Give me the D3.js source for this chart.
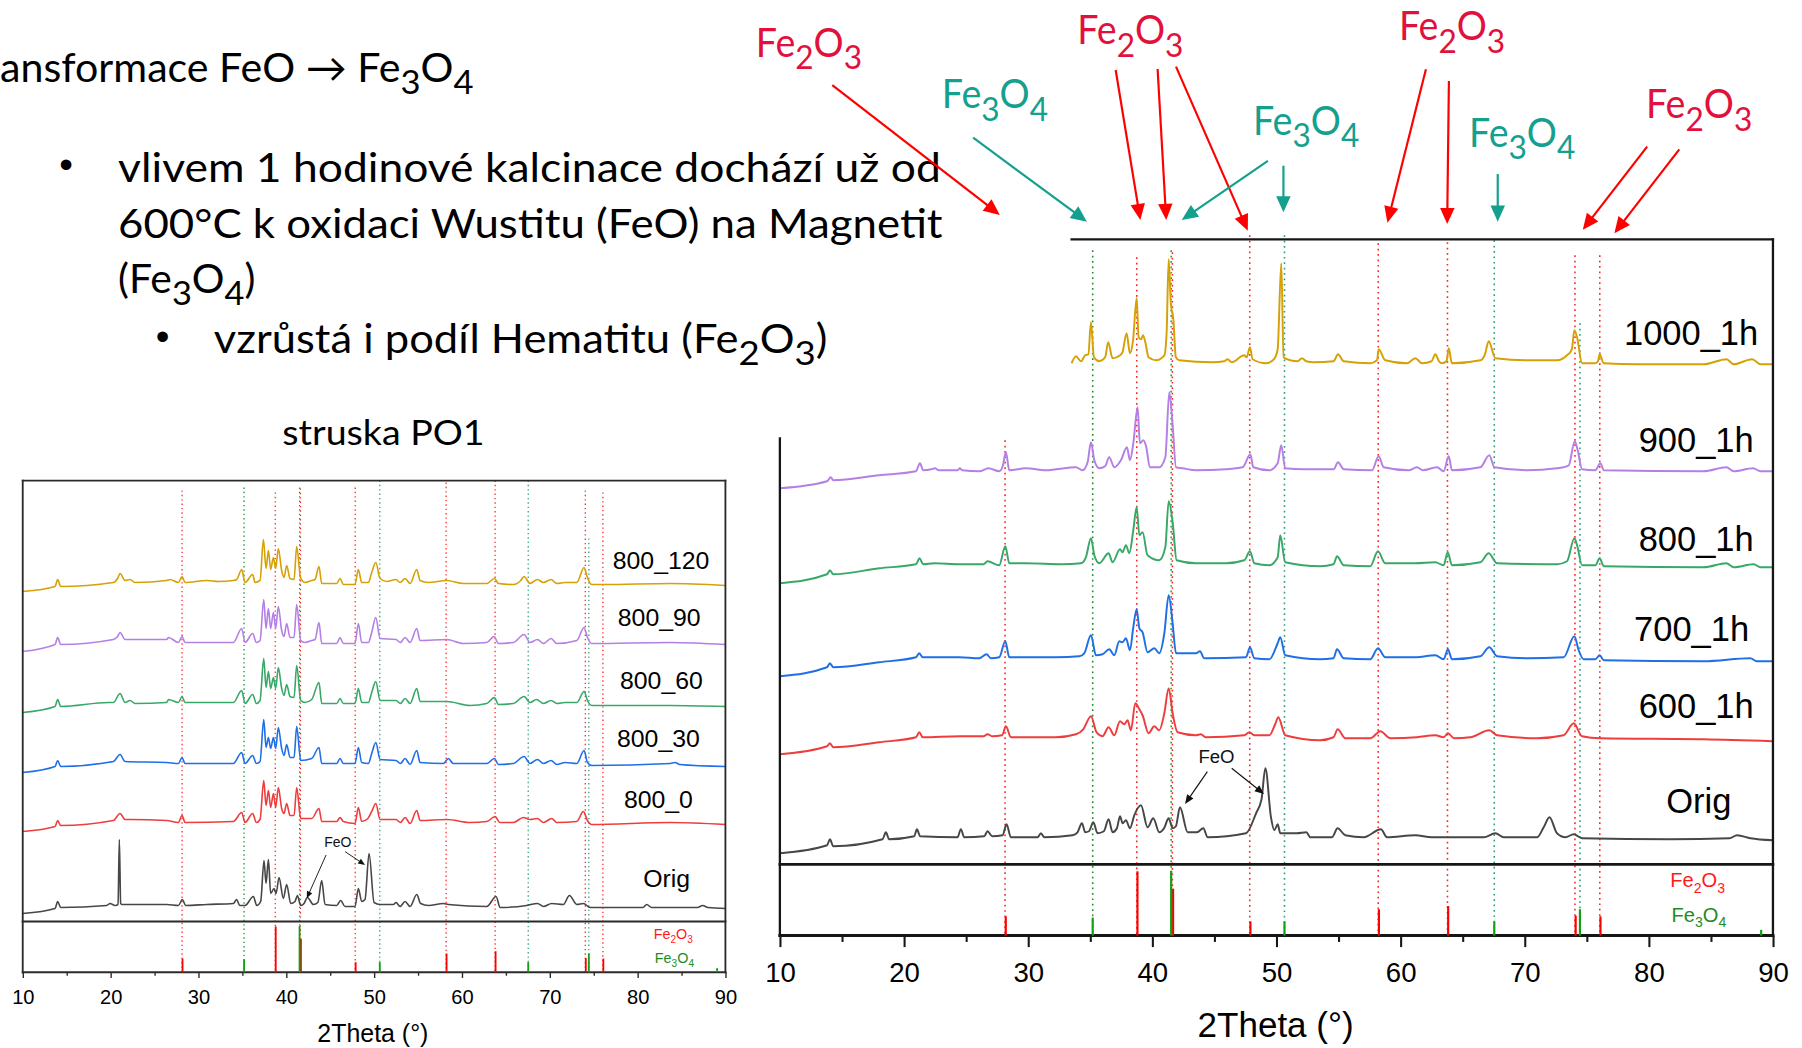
<!DOCTYPE html>
<html>
<head>
<meta charset="utf-8">
<script src="https://cdn.jsdelivr.net/npm/d3@7"></script>
<style>
html,body{margin:0;padding:0;background:#fff;overflow:hidden}
svg{display:block}
</style>
</head>
<body>
<svg id="slide" width="1802" height="1048" viewBox="0 0 1568 912"></svg>
<script>
// ---------- axis ticks ----------
const xTicks = [10, 20, 30, 40, 50, 60, 70, 80, 90];
const xMinorTicks = [15, 25, 35, 45, 55, 65, 75, 85];

// ---------- reference patterns (2Theta, relative intensity) ----------
const hematiteRef = [28.14, 38.75, 41.62, 47.85, 58.20, 63.78, 74.05, 76.05];
const hematiteRefIntensity = [30, 100, 73, 22, 41, 46, 31, 30];
const magnetiteRef = [35.20, 41.52, 50.65, 67.55, 74.45, 89.05];
const magnetiteRefIntensity = [28, 101, 22, 22, 41, 9];

// ---------- calcination 1 h at different temperatures (stacked intensity) ----------
const calcNames = ["1000_1h", "900_1h", "800_1h", "700_1h", "600_1h", "Orig"];
const calc1000h = [[33.5,501],[33.85,508],[34.25,503],[34.6,509],[34.85,510],[35.06,542],[35.3,507],[35.73,503],[36.2,507],[36.45,522],[36.8,506],[37.4,509],[37.6,512],[37.93,531],[38.2,511],[38.45,524],[38.74,566],[38.9,527],[39.1,525],[39.25,529],[39.44,522],[39.7,507],[40.3,504],[40.97,509],[41.15,530],[41.32,605],[41.5,560],[41.69,546],[41.9,507],[42.17,504],[44.86,502],[45.8,503],[46.07,505],[46.4,502],[47.41,509],[47.6,507],[47.87,517],[48.08,505],[49.16,501],[49.8,505],[50.1,515],[50.39,601],[50.58,507],[51.12,504],[51.7,503],[52.06,506],[52.4,503],[53.0,502],[54.6,503],[54.96,510],[55.42,503],[57.56,501],[58.1,504],[58.24,515],[58.77,504],[60.52,501],[61.19,506],[61.73,501],[62.5,503],[62.8,510],[63.1,503],[63.34,501],[63.7,503],[63.88,516],[64.14,501],[66.43,504],[66.8,510],[67.1,523],[67.64,506],[70.19,504],[72.6,504],[73.41,509],[73.8,515],[74.0,534],[74.22,527],[74.62,501],[75.69,501],[75.9,503],[76.04,510],[76.37,501],[79.05,500],[84.42,500],[86.25,505],[86.84,500],[88.32,505],[89.0,500],[90,500]];
const calc900h = [[10,376],[13.8,383],[14.1,387],[14.3,384],[18.0,389],[20.96,393],[21.28,401],[21.55,394],[22.2,395],[22.49,396],[22.8,394],[24.3,394],[24.5,396],[24.7,394],[26.06,393],[26.81,396],[27.67,393],[27.95,398],[28.21,412],[28.48,394],[29.82,396],[31.43,394],[32.24,395],[33.85,397],[34.39,394],[34.79,402],[35.06,422],[35.33,404],[35.73,396],[36.2,398],[36.53,407],[36.94,397],[37.47,404],[37.96,417],[38.2,404],[38.47,421],[38.82,457],[39.0,421],[39.28,424],[39.5,418],[39.81,397],[40.56,397],[41.05,407],[41.37,472],[41.64,439],[41.91,397],[42.45,396],[43.52,394],[45.94,395],[47.28,397],[47.9,410],[48.14,397],[49.43,394],[50.1,401],[50.39,419],[50.71,396],[52.19,395],[54.61,395],[54.96,402],[55.42,395],[57.7,394],[58.24,408],[58.64,397],[60.65,394],[61.32,397],[61.8,394],[62.94,397],[63.47,393],[63.88,408],[64.14,394],[66.43,397],[67.15,409],[67.56,397],[70.19,394],[72.6,396],[73.55,399],[74.03,423],[74.27,414],[74.62,395],[75.69,394],[76.1,401],[76.37,394],[84.42,393],[86.25,397],[86.84,393],[88.4,396],[89,393],[90,393]];
const calc800h = [[10,281],[13.8,290],[14.03,294],[14.3,290],[18.0,296],[20.96,300],[21.25,306],[21.55,300],[22.43,301],[24.45,300],[26.4,300],[26.73,303],[27.67,299],[28.16,318],[28.48,301],[29.82,301],[32.78,300],[34.25,301],[34.65,307],[35.06,326],[35.33,309],[35.73,301],[36.48,311],[36.8,302],[37.4,315],[37.6,312],[37.88,319],[38.15,311],[38.47,334],[38.74,357],[38.96,329],[39.22,332],[39.62,309],[40.56,304],[41.05,317],[41.32,363],[41.64,342],[41.96,304],[43.52,301],[45.94,301],[47.41,304],[47.87,313],[48.22,301],[49.43,299],[50.1,307],[50.31,329],[50.71,302],[53.53,298],[54.6,300],[54.88,308],[55.42,299],[57.56,298],[58.18,313],[58.77,301],[61.19,301],[62.8,302],[63.47,299],[63.8,312],[64.14,299],[66.43,302],[67.1,311],[67.77,301],[72.6,300],[73.41,303],[74.0,326],[74.22,319],[74.62,299],[75.69,299],[76.04,306],[76.37,298],[84.42,297],[86.25,301],[86.84,297],[88.45,300],[89,297],[90,297]];
const calc700h = [[10,188],[13.8,197],[14.03,201],[14.3,197],[18.0,202],[20.96,207],[21.23,211],[21.5,207],[24.45,207],[26.06,206],[26.65,210],[27.0,206],[27.67,207],[28.16,223],[28.48,207],[32.24,207],[34.12,208],[34.52,211],[35.06,229],[35.46,209],[35.99,210],[36.53,215],[36.94,209],[37.34,223],[37.6,222],[37.88,226],[38.2,214],[38.47,237],[38.74,255],[38.96,236],[39.22,232],[39.62,212],[40.16,216],[40.56,211],[40.97,231],[41.32,269],[41.64,241],[41.91,211],[43.52,211],[43.84,213],[44.19,206],[47.55,207],[47.87,217],[48.22,206],[49.43,205],[50.1,221],[50.31,227],[50.71,209],[53.53,205],[54.6,206],[54.88,215],[55.42,206],[57.56,205],[58.18,216],[58.77,207],[61.19,207],[62.8,209],[63.47,205],[63.82,215],[64.14,205],[66.43,208],[67.15,217],[67.77,208],[70.19,206],[73.14,207],[74.0,228],[74.35,214],[74.75,205],[75.69,205],[76.04,209],[76.37,204],[84.42,203],[88.18,206],[88.7,203],[90,203]];
const calc600h = [[10,110],[13.8,118],[14.03,121],[14.3,117],[18.0,122],[20.96,127],[21.23,132],[21.5,127],[24.45,128],[26.4,128],[26.73,130],[27.1,128],[27.9,129],[28.21,138],[28.61,127],[32.24,127],[33.85,130],[34.44,135],[35.06,148],[35.51,132],[35.99,128],[36.48,137],[36.94,129],[37.4,143],[37.74,140],[38.01,144],[38.28,134],[38.63,161],[38.96,155],[39.22,149],[39.7,131],[40.16,138],[40.56,134],[40.97,151],[41.32,176],[41.64,151],[42.04,132],[43.52,129],[43.92,130],[44.3,127],[47.41,129],[47.82,132],[48.22,129],[49.43,129],[49.9,140],[50.15,147],[50.71,129],[53.53,124],[54.6,127],[54.93,135],[55.55,126],[57.56,126],[58.37,133],[59.18,126],[61.32,127],[62.8,129],[63.47,127],[63.82,131],[64.3,126],[65.62,127],[67.15,134],[67.77,129],[71.0,126],[73.14,129],[73.95,141],[74.62,128],[76.1,126],[84.42,125],[90,123]];
const origRight = [[10,11],[13.8,19],[14.03,25],[14.3,18],[18.27,25],[18.54,32],[18.8,25],[20.82,28],[21.04,35],[21.3,28],[24.31,27],[24.58,35],[24.85,27],[26.46,28],[26.73,33],[27.1,28],[27.94,29],[28.26,40],[28.61,27],[30.76,27],[31.03,31],[31.3,27],[33.58,29],[33.98,32],[34.33,41],[34.6,32],[34.9,33],[35.25,42],[35.59,31],[36.1,33],[36.48,45],[36.8,32],[37.15,36],[37.4,48],[37.61,41],[37.88,44],[38.2,36],[38.55,49],[39.09,59],[39.62,37],[40.08,46],[40.56,32],[40.95,36],[41.32,46],[41.64,36],[41.9,38],[42.23,57],[42.85,32],[43.6,32],[44.11,36],[44.46,27],[47.55,31],[48.36,51],[48.8,65],[49.11,96],[49.56,47],[49.83,34],[50.1,40],[50.31,31],[51.65,31],[52.41,32],[52.73,27],[54.47,27],[54.93,36],[55.55,29],[57.03,27],[58.42,35],[58.91,27],[61.19,29],[62.5,27],[66.7,27],[67.64,31],[68.31,27],[71.0,27],[71.53,37],[72.0,47],[72.6,31],[73.28,27],[73.95,30],[74.62,26],[81.74,25],[86.5,26],[87.11,29],[88.18,26],[90,24]];

// ---------- calcination at 800 °C with different holding times (stacked intensity) ----------
const holdNames = ["800_120", "800_90", "800_60", "800_30", "800_0", "Orig"];
const hold120 = [[10,330],[13.68,335],[13.98,342],[14.32,335],[20.32,339],[20.8,343],[21.08,348],[21.65,341],[22.22,342],[22.79,339],[26.39,341],[26.77,342],[27.72,339],[28.14,345],[28.48,339],[30.96,341],[32.29,340],[33.98,341],[34.36,342],[34.93,352],[35.31,339],[36.18,347],[36.45,339],[37.02,341],[37.4,382],[37.7,353],[37.97,371],[38.23,352],[38.54,364],[38.8,353],[39.1,373],[39.48,351],[39.75,344],[40.05,356],[40.43,343],[40.89,342],[41.19,375],[41.65,343],[42.14,339],[42.9,341],[43.28,342],[43.73,355],[44.04,338],[45.75,338],[46.13,343],[46.5,337],[47.83,337],[48.21,352],[48.59,339],[49.35,339],[49.73,349],[50.2,359],[50.68,343],[51.44,340],[52.5,342],[52.96,339],[53.53,343],[54.1,338],[54.86,352],[55.24,341],[56.19,339],[58.27,341],[60.17,338],[62.83,338],[63.7,343],[64.16,338],[65.86,337],[66.7,341],[67.08,345],[67.76,338],[68.6,342],[69.28,339],[70.15,342],[70.8,338],[71.75,339],[73.08,339],[73.91,354],[74.29,344],[74.78,337],[76.11,337],[83.7,338],[90,336]];
const hold90 = [[10,270],[13.68,277],[13.98,284],[14.32,277],[20.32,282],[20.8,285],[21.08,289],[21.65,282],[22.22,282],[26.39,282],[26.6,284],[27.72,279],[28.14,285],[28.48,279],[33.98,279],[34.93,293],[35.31,279],[36.18,288],[36.6,279],[37.02,281],[37.44,322],[37.7,293],[37.97,313],[38.23,293],[38.54,309],[38.8,293],[39.1,315],[39.48,291],[39.75,285],[40.05,298],[40.43,284],[40.89,284],[41.19,317],[41.65,281],[42.14,279],[42.9,281],[43.28,282],[43.73,299],[44.04,278],[45.75,278],[46.13,284],[46.5,278],[47.83,278],[48.21,298],[48.59,279],[49.35,279],[49.73,289],[50.2,304],[50.68,283],[52.5,282],[53.0,279],[53.53,284],[54.1,279],[54.86,293],[55.24,281],[58.27,282],[60.17,278],[62.83,279],[63.66,285],[64.16,278],[65.86,279],[67.08,287],[67.76,279],[68.6,282],[69.28,278],[70.15,283],[70.8,278],[73.08,281],[73.91,294],[74.29,284],[74.78,278],[83.7,279],[90,277]];
const hold60 = [[10,209],[13.68,215],[13.98,222],[14.32,215],[19.75,219],[20.32,219],[21.08,228],[21.65,219],[22.22,221],[22.79,218],[26.39,219],[26.6,222],[27.72,219],[28.14,225],[28.48,219],[33.98,219],[34.93,231],[35.31,218],[36.18,227],[36.6,218],[37.02,221],[37.44,263],[37.7,234],[37.97,250],[38.23,233],[38.54,244],[38.8,233],[39.1,254],[39.48,233],[39.75,226],[40.05,237],[40.43,225],[40.89,224],[41.19,256],[41.65,221],[42.14,219],[42.9,222],[43.73,239],[44.04,218],[45.75,218],[46.13,223],[46.5,218],[47.83,218],[48.21,233],[48.59,219],[49.35,219],[49.73,229],[50.2,240],[50.68,221],[52.5,221],[53.0,218],[53.53,223],[54.1,218],[54.86,233],[55.24,220],[58.27,220],[60.93,216],[62.83,218],[63.7,224],[64.16,217],[65.86,218],[67.08,225],[67.76,219],[68.5,222],[69.28,218],[70.15,221],[70.8,218],[71.75,219],[73.08,219],[73.91,230],[74.29,221],[74.78,216],[83.7,216],[90,215]];
const hold30 = [[10,149],[13.68,155],[13.98,161],[14.32,155],[20.32,160],[21.08,167],[21.65,160],[26.39,159],[27.72,158],[28.14,164],[28.48,158],[33.98,158],[34.93,169],[35.31,158],[36.18,166],[36.6,158],[37.02,160],[37.44,202],[37.7,174],[37.97,184],[38.23,173],[38.54,184],[38.8,173],[39.1,194],[39.48,173],[39.75,166],[40.05,177],[40.43,164],[40.89,164],[41.19,195],[41.65,161],[42.9,163],[43.73,174],[44.04,158],[45.75,158],[46.13,163],[46.5,158],[47.83,158],[48.21,174],[48.59,159],[49.35,158],[49.73,168],[50.2,179],[50.68,162],[52.5,161],[53.0,158],[53.53,163],[54.1,157],[54.86,171],[55.24,159],[57.9,158],[58.46,163],[59.0,158],[62.83,158],[63.7,163],[64.16,157],[65.86,158],[67.08,165],[67.76,158],[68.6,162],[69.28,158],[70.15,161],[70.8,157],[71.75,159],[73.08,158],[73.91,171],[74.29,159],[74.78,156],[83.7,158],[84.27,159],[84.8,157],[90,155]];
const hold0 = [[10,90],[13.68,95],[13.98,101],[14.32,96],[20.32,101],[21.08,108],[21.65,102],[22.22,102],[26.39,101],[27.72,99],[28.14,106],[28.48,99],[33.98,100],[34.93,109],[35.31,99],[36.18,108],[36.6,99],[37.02,102],[37.44,141],[37.7,116],[37.97,131],[38.23,114],[38.54,128],[38.8,114],[39.1,134],[39.48,113],[39.75,108],[40.05,118],[40.43,106],[40.89,106],[41.19,134],[41.65,103],[42.9,103],[43.73,113],[44.04,100],[45.75,100],[46.13,104],[46.5,100],[47.83,98],[48.21,114],[48.59,100],[49.3,103],[49.73,110],[50.2,118],[50.68,102],[52.5,102],[53.0,99],[53.53,104],[54.1,98],[54.86,111],[55.24,101],[58.27,102],[60.93,99],[62.83,100],[63.78,105],[64.3,99],[65.86,99],[67.0,104],[67.76,102],[68.6,103],[69.28,99],[70.23,103],[70.8,99],[73.08,100],[73.83,110],[74.29,101],[74.78,97],[83.7,99],[90,97]];
const origLeft = [[10,8],[13.68,13],[13.98,20],[14.32,14],[19.56,16],[19.94,18],[20.51,16],[20.85,17],[21.0,82],[21.15,18],[21.27,17],[22.22,17],[26.39,17],[27.72,16],[28.18,22],[28.55,16],[30.96,17],[33.98,18],[34.36,22],[34.7,16],[35.31,16],[36.26,25],[36.64,16],[37.09,20],[37.47,61],[37.7,38],[37.97,62],[38.23,28],[38.61,33],[38.84,28],[39.18,44],[39.67,23],[40.05,37],[40.51,18],[41.0,20],[41.27,26],[41.65,16],[42.03,18],[42.41,24],[43.09,17],[43.6,19],[44.04,41],[44.42,17],[45.75,16],[46.2,21],[46.69,15],[47.83,15],[48.21,33],[48.59,20],[48.97,22],[49.43,68],[50.0,19],[50.68,17],[52.2,17],[52.5,19],[52.96,15],[53.53,20],[54.1,15],[54.86,27],[55.3,18],[56.19,16],[57.9,18],[58.46,17],[62.83,15],[63.89,25],[64.35,14],[67.38,16],[68.6,18],[69.28,15],[70.23,18],[71.55,17],[72.24,26],[73.08,17],[73.83,18],[74.6,14],[80.6,14],[81.04,17],[81.6,14],[86.8,14],[87.42,16],[88.0,14],[90,13]];

// ---------- styling / layout ----------
const seriesColors = ["#D6A104", "#B47FE6", "#38A868", "#1E6FE8", "#EF3D3D", "#474747"];
const RED = "#FF0000", STICK_GREEN = "#12A012";
const GUIDE_RED = "#FF2424";
const magnetiteGuideColors = ["#1E8A2E", "#22A02A", "#2E9E7A", "#2E9E7A", "#2E9E7A", null];
const BODY_FONT = "Lato, 'Open Sans', sans-serif";
const PLOT_FONT = "'Liberation Sans', Arial, sans-serif";

const svg = d3.select("#slide");

// text helper: segments with optional subscripts
function richText(parent, segs, opts) {
  const t = parent.append("text")
    .attr("x", opts.x).attr("y", opts.y)
    .attr("font-family", opts.font || BODY_FONT)
    .attr("font-size", opts.size)
    .attr("fill", opts.fill || "#000")
    .attr("text-anchor", opts.anchor || "start");
  if (opts.width) t.attr("textLength", opts.width).attr("lengthAdjust", "spacingAndGlyphs");
  const drop = opts.subDrop != null ? opts.subDrop : opts.size * 0.3;
  let down = false;
  segs.forEach(s => {
    const sub = typeof s !== "string";
    const txt = sub ? s.sub : s;
    const ts = t.append("tspan").text(txt);
    if (sub && !down) { ts.attr("dy", drop); down = true; }
    else if (!sub && down) { ts.attr("dy", -drop); down = false; }
    if (sub) ts.attr("font-size", opts.size * (opts.subScale || 0.84));
  });
  return t;
}

function arrow(parent, x1, y1, x2, y2, color, width, headLen, headHalf) {
  const dx = x2 - x1, dy = y2 - y1, len = Math.hypot(dx, dy);
  const ux = dx / len, uy = dy / len;
  const bx = x2 - ux * headLen, by = y2 - uy * headLen;
  parent.append("line")
    .attr("x1", x1).attr("y1", y1)
    .attr("x2", x2 - ux * headLen * 0.7).attr("y2", y2 - uy * headLen * 0.7)
    .attr("stroke", color).attr("stroke-width", width);
  parent.append("path")
    .attr("d", `M${x2},${y2}L${bx - uy * headHalf},${by + ux * headHalf}L${bx + uy * headHalf},${by - ux * headHalf}Z`)
    .attr("fill", color);
}

// ---------- slide text ----------
const textG = svg.append("g");
richText(textG, ["ansformace FeO \u2192 Fe", {sub: "3"}, "O", {sub: "4"}],
  {x: 0, y: 71.1, size: 34.5, width: 412, subDrop: 10.5});
textG.append("text").attr("x", 57.5).attr("y", 155).attr("text-anchor", "middle")
  .attr("font-family", PLOT_FONT).attr("font-size", 34).text("\u2022");
richText(textG, ["vlivem 1 hodinové kalcinace dochází už od"], {x: 102.7, y: 158.1, size: 34.5, width: 716});
richText(textG, ["600°C k oxidaci Wustitu (FeO) na Magnetit"], {x: 102.7, y: 207.4, size: 34.5, width: 717.5});
richText(textG, ["(Fe", {sub: "3"}, "O", {sub: "4"}, ")"], {x: 102.7, y: 255.2, size: 34.5, width: 119.5, subDrop: 10.5});
textG.append("text").attr("x", 141.5).attr("y", 304.5).attr("text-anchor", "middle")
  .attr("font-family", PLOT_FONT).attr("font-size", 34).text("\u2022");
richText(textG, ["vzrůstá i podíl Hematitu (Fe", {sub: "2"}, "O", {sub: "3"}, ")"], {x: 186, y: 307.5, size: 34.5, width: 534, subDrop: 10.5});

// phase call-outs above the right chart
const CRIMSON = "#E2103C", TEAL = "#13A08F";
const callouts = [
  {x: 657.6, y: 49.3, phase: ["Fe", {sub: "2"}, "O", {sub: "3"}], c: CRIMSON},
  {x: 819.5, y: 94.3, phase: ["Fe", {sub: "3"}, "O", {sub: "4"}], c: TEAL},
  {x: 937.3, y: 38.5, phase: ["Fe", {sub: "2"}, "O", {sub: "3"}], c: CRIMSON},
  {x: 1090.3, y: 117.5, phase: ["Fe", {sub: "3"}, "O", {sub: "4"}], c: TEAL},
  {x: 1217.3, y: 35.0, phase: ["Fe", {sub: "2"}, "O", {sub: "3"}], c: CRIMSON},
  {x: 1278.3, y: 127.6, phase: ["Fe", {sub: "3"}, "O", {sub: "4"}], c: TEAL},
  {x: 1432.3, y: 103.0, phase: ["Fe", {sub: "2"}, "O", {sub: "3"}], c: CRIMSON}
];
callouts.forEach(c => richText(textG, c.phase, {x: c.x, y: c.y, size: 34.5, fill: c.c, width: 92.5, subDrop: 10.7}));

const calloutArrows = [
  [724.2, 74, 870, 187, RED], [970.8, 60.9, 992.3, 191.4, RED], [1007.3, 60, 1014.8, 191.4, RED],
  [1023.3, 58, 1085.8, 200.7, RED], [1240.8, 60.3, 1207.3, 193.8, RED], [1260.8, 70.5, 1259.3, 195, RED],
  [1433.3, 127.6, 1377.3, 200, RED], [1461.3, 130, 1404.8, 203, RED],
  [846.8, 119.8, 945.8, 192.9, TEAL], [1103.3, 140, 1028.3, 191.4, TEAL],
  [1116.8, 144.2, 1116.8, 184.8, TEAL], [1303.3, 151.4, 1303.3, 192.9, TEAL]
];
calloutArrows.forEach(a => arrow(textG, a[0], a[1], a[2], a[3], a[4], 1.9, 14, 6.3));

// ---------- generic XRD panel ----------
function xrdPanel(cfg) {
  const g = svg.append("g");
  const x = d3.scaleLinear().domain([10, 90]).range([cfg.x0, cfg.x1]);
  const y = d3.scaleLinear().domain([0, cfg.yMax]).range([cfg.divider, cfg.divider - cfg.yMax * 0.8702]);
  const ys = d3.scaleLinear().domain([0, 111]).range([cfg.axis, cfg.divider]);

  // reference guide lines (dotted)
  hematiteRef.forEach((p, i) => {
    g.append("line").attr("x1", x(p)).attr("x2", x(p))
      .attr("y1", y(cfg.hemTop[i])).attr("y2", cfg.axis)
      .attr("stroke", GUIDE_RED).attr("stroke-width", cfg.guideW)
      .attr("stroke-dasharray", cfg.guideDash);
  });
  magnetiteRef.forEach((p, i) => {
    if (cfg.magTop[i] == null) return;
    g.append("line").attr("x1", x(p)).attr("x2", x(p))
      .attr("y1", y(cfg.magTop[i])).attr("y2", cfg.axis)
      .attr("stroke", magnetiteGuideColors[i]).attr("stroke-width", cfg.guideW)
      .attr("stroke-dasharray", cfg.guideDash);
  });

  // patterns
  const line = d3.line().x(d => x(d[0])).y(d => y(d[1])).curve(d3.curveMonotoneX);
  cfg.series.forEach((s, i) => {
    g.append("path").attr("d", line(s)).attr("fill", "none")
      .attr("stroke", seriesColors[i]).attr("stroke-width", cfg.lineW)
      .attr("stroke-linejoin", "round");
  });

  // frame
  const frame = (x1, y1, x2, y2, w) => g.append("line")
    .attr("x1", x1).attr("y1", y1).attr("x2", x2).attr("y2", y2)
    .attr("stroke", cfg.frameColor).attr("stroke-width", w).attr("stroke-linecap", "square");
  cfg.frameLines(frame, x, y);

  // reference sticks
  hematiteRef.forEach((p, i) => {
    g.append("line").attr("x1", x(p) + cfg.stickOffset).attr("x2", x(p) + cfg.stickOffset)
      .attr("y1", cfg.axis).attr("y2", ys(hematiteRefIntensity[i]))
      .attr("stroke", RED).attr("stroke-width", cfg.stickW);
  });
  magnetiteRef.forEach((p, i) => {
    g.append("line").attr("x1", x(p)).attr("x2", x(p))
      .attr("y1", cfg.axis).attr("y2", ys(magnetiteRefIntensity[i]))
      .attr("stroke", STICK_GREEN).attr("stroke-width", cfg.stickW);
  });

  // bottom axis: major + minor ticks
  const ax = g.append("g").attr("transform", `translate(0,${cfg.axis})`)
    .call(d3.axisBottom(x).tickValues(xTicks).tickFormat(d3.format("d"))
      .tickSize(cfg.majorTick).tickPadding(cfg.tickPad));
  ax.select(".domain").remove();
  ax.selectAll(".tick line").attr("stroke", cfg.frameColor).attr("stroke-width", cfg.tickW);
  ax.selectAll(".tick text").attr("font-family", PLOT_FONT).attr("font-size", cfg.tickFont).attr("fill", "#000");
  const mx = g.append("g").attr("transform", `translate(0,${cfg.axis})`)
    .call(d3.axisBottom(x).tickValues(xMinorTicks).tickFormat("").tickSize(cfg.minorTick));
  mx.select(".domain").remove();
  mx.selectAll(".tick line").attr("stroke", cfg.frameColor).attr("stroke-width", cfg.tickW);

  // axis title
  g.append("text").attr("x", cfg.titleX).attr("y", cfg.titleY).attr("text-anchor", "middle")
    .attr("font-family", PLOT_FONT).attr("font-size", cfg.titleFont).text("2Theta (°)");

  // series names
  cfg.names.forEach((n, i) => {
    g.append("text").attr("x", cfg.namePos[i][0]).attr("y", cfg.namePos[i][1])
      .attr("text-anchor", "middle").attr("font-family", PLOT_FONT)
      .attr("font-size", cfg.nameFont).attr("fill", "#000").text(n);
  });

  // legend in reference panel
  richText(g, ["Fe", {sub: "2"}, "O", {sub: "3"}], {x: cfg.legX, y: cfg.legY[0], size: cfg.legFont, fill: "#FF1A1A",
    font: PLOT_FONT, subScale: 0.7, subDrop: cfg.legFont * 0.28});
  richText(g, ["Fe", {sub: "3"}, "O", {sub: "4"}], {x: cfg.legX + 1, y: cfg.legY[1], size: cfg.legFont, fill: "#1E8C1E",
    font: PLOT_FONT, subScale: 0.7, subDrop: cfg.legFont * 0.28});

  // FeO note
  g.append("text").attr("x", cfg.feo.x).attr("y", cfg.feo.y).attr("font-family", PLOT_FONT)
    .attr("font-size", cfg.feo.size).attr("fill", "#111").text("FeO");
  cfg.feo.arrows.forEach(a => arrow(g, a[0], a[1], a[2], a[3], "#111", cfg.feo.w, cfg.feo.head, cfg.feo.head * 0.42));
  return g;
}

// right chart: 1 h calcination at different temperatures
xrdPanel({
  x0: 678.6, x1: 1542.8, divider: 752.1, axis: 814.2, yMax: 625,
  series: [calc1000h, calc900h, calc800h, calc700h, calc600h, origRight],
  hemTop: [424, 607, 612, 629, 621, 622, 609, 609],
  magTop: [614, 614, 629, 624, 541, null],
  guideW: 1.35, guideDash: "1.5 3.2", lineW: 1.7, stickW: 1.9, stickOffset: 0.6,
  frameColor: "#161616",
  frameLines: (f, x, y) => {
    f(x(33.5), y(625), x(90), y(625), 2.0);
    f(x(90), y(625), x(90), 814.2, 2.0);
    f(x(10), 381.4, x(10), 814.2, 2.0);
    f(x(10), 752.1, x(90), 752.1, 2.4);
    f(x(10), 814.2, x(90), 814.2, 2.6);
  },
  majorTick: 10, minorTick: 5.5, tickPad: 13, tickW: 1.8, tickFont: 24,
  titleX: 1110, titleY: 902.5, titleFont: 30.5,
  names: calcNames, nameFont: 30,
  namePos: [[1471.6, 300.2], [1476, 393], [1476, 479.2], [1472, 557.5], [1476, 625.1], [1478.3, 707.7]],
  legX: 1453.5, legY: [772.1, 802], legFont: 17.5,
  feo: {x: 1042.8, y: 664.2, size: 16.2, w: 1, head: 8,
        arrows: [[1050.6, 671.5, 1031.2, 699.6], [1071.8, 668.6, 1099.9, 690.9]]}
});

// left chart: 800 °C with different holding times
xrdPanel({
  x0: 19.7, x1: 631.2, divider: 801.9, axis: 846.1, yMax: 441,
  series: [hold120, hold90, hold60, hold30, hold0, origLeft],
  hemTop: [431, 429, 433, 434, 439, 441, 431, 429],
  magTop: [434, 434, 441, 441, 383, null],
  guideW: 1.1, guideDash: "1.2 2.6", lineW: 1.4, stickW: 1.6, stickOffset: 0.4,
  frameColor: "#2a2a2a",
  frameLines: (f, x, y) => {
    f(x(10), 418.3, x(90), 418.3, 1.6);
    f(x(10), 418.3, x(10), 846.1, 1.6);
    f(x(90), 418.3, x(90), 846.1, 1.6);
    f(x(10), 801.9, x(90), 801.9, 1.8);
    f(x(10), 846.1, x(90), 846.1, 1.8);
  },
  majorTick: 5, minorTick: 3, tickPad: 10.3, tickW: 1.2, tickFont: 17.5,
  titleX: 324.4, titleY: 907, titleFont: 21.7,
  names: holdNames, nameFont: 21.6,
  namePos: [[575.2, 495.4], [573.6, 544.4], [575.5, 599.8], [572.9, 649.7], [572.9, 703.4], [580.1, 772.1]],
  legX: 568.8, legY: [817.4, 837.9], legFont: 12.5,
  feo: {x: 282, y: 737.3, size: 12.2, w: 0.8, head: 6,
        arrows: [[283.7, 744, 266.9, 781.7], [300.2, 741.1, 317.6, 752.7]]}
});

// left chart title
richText(svg, ["struska PO1"], {x: 245.6, y: 386.9, size: 29.5, width: 176});
</script>
</body>
</html>
